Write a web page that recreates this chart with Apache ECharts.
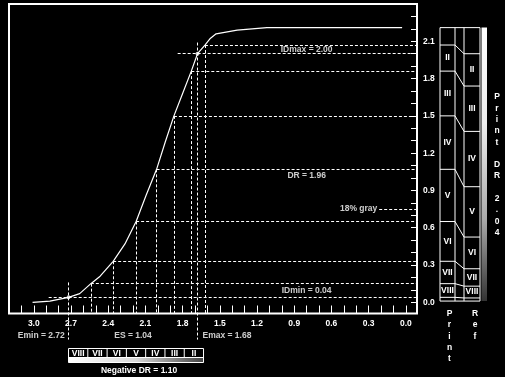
<!DOCTYPE html>
<html>
<head>
<meta charset="utf-8">
<script src="https://cdn.jsdelivr.net/npm/echarts@6/dist/echarts.min.js"></script>
<style>
  html, body { margin: 0; padding: 0; background: #000; }
  #main { width: 505px; height: 377px; }
</style>
</head>
<body>
<div id="main"></div>
<script>
// characteristic curve (log exposure -> density)
const curveX = [3.01, 2.87, 2.72, 2.63, 2.54, 2.465, 2.36, 2.265, 2.175, 2.095, 2.01, 1.94, 1.87, 1.80, 1.73, 1.68, 1.62, 1.58, 1.53, 1.36, 1.12, 0.03];
const curveY = [0.00, 0.01, 0.04, 0.07, 0.15, 0.21, 0.33, 0.47, 0.65, 0.86, 1.07, 1.29, 1.50, 1.68, 1.86, 2.00, 2.07, 2.12, 2.16, 2.19, 2.21, 2.21];

// points on the curve where the print zones change
const zoneX = [2.54, 2.36, 2.175, 2.01, 1.87, 1.73, 1.62];
const zoneY = [0.15, 0.33, 0.65, 1.07, 1.50, 1.86, 2.07];

const eMin = 2.72, eMax = 1.68, dMin = 0.04, dMax = 2.00;
const gray18 = 0.75;

// axis labels
const xLabels = [3.0, 2.7, 2.4, 2.1, 1.8, 1.5, 1.2, 0.9, 0.6, 0.3, 0.0];
const yLabels = [0.0, 0.3, 0.6, 0.9, 1.2, 1.5, 1.8, 2.1];

// zone panel on the right
const zoneNames = ['II', 'III', 'IV', 'V', 'VI', 'VII', 'VIII'];
const printBounds = [2.21, 2.07, 1.86, 1.50, 1.07, 0.65, 0.33, 0.15, 0.04, 0.01];
const refBounds = [2.21, 2.00, 1.74, 1.375, 0.93, 0.525, 0.27, 0.13, 0.035, 0.01];

// negative step wedge under the x axis
const wedgeLabels = ['VIII', 'VII', 'VI', 'V', 'IV', 'III', 'II'];

const X_MIN = -0.09, X_MAX = 3.2, Y_MIN = -0.09, Y_MAX = 2.4;
const FONT = 'bold 8.5px "Liberation Sans", Arial, sans-serif';
const textStyle = { color: '#fff', fontWeight: 'bold', fontSize: 8.5, fontFamily: '"Liberation Sans", Arial, sans-serif' };

let xMinor = [], yMinor = [];
for (let i = 0; i <= 32; i++) xMinor.push(+(i / 10).toFixed(1));
for (let i = 0; i <= 24; i++) yMinor.push(+(i / 10).toFixed(1));

// dashed guide lines
let guides = [];
zoneX.forEach(function (x, i) {
  guides.push({ coords: [[x, zoneY[i]], [X_MIN, zoneY[i]]] });
  guides.push({ coords: [[x, zoneY[i]], [x, Y_MIN]] });
});
guides.push({ coords: [[2.88, dMin], [X_MIN, dMin]] });
guides.push({ coords: [[eMin, 0.16], [eMin, -0.30]] });
guides.push({ coords: [[1.84, dMax], [X_MIN, dMax]] });
guides.push({ coords: [[eMax, 2.09], [eMax, -0.30]] });
guides.push({ coords: [[0.215, gray18], [X_MIN, gray18]] });

const notes = [
  { value: [0.80, 2.03], name: 'IDmax = 2.00' },
  { value: [0.80, 1.02], name: 'DR = 1.96' },
  { value: [0.23, gray18], name: '18% gray', label: { align: 'right' } },
  { value: [0.80, 0.09], name: 'IDmin = 0.04' },
  { value: [2.75, -0.265], name: 'Emin = 2.72', label: { align: 'right' } },
  { value: [(eMin + eMax) / 2, -0.265], name: 'ES = 1.04' },
  { value: [1.64, -0.265], name: 'Emax = 1.68', label: { align: 'left' } }
];

function txt(x, y, s, align, lh) {
  return {
    type: 'text', x: x, y: y,
    style: { text: s, fill: '#fff', font: FONT, align: align || 'center', verticalAlign: 'middle', lineHeight: lh || 11 }
  };
}
function seg(x1, y1, x2, y2) {
  return { type: 'line', shape: { x1: x1, y1: y1, x2: x2, y2: y2 }, style: { stroke: '#fff', lineWidth: 1 } };
}

function renderWedge(params, api) {
  const left = api.coord([eMin, Y_MIN])[0];
  const bottom = api.coord([eMin, Y_MIN])[1];
  const w = 135, top = bottom + 35, mid = top + 9, low = top + 14;
  const cw = w / wedgeLabels.length;
  let kids = [
    { type: 'rect', shape: { x: left, y: mid, width: w, height: low - mid },
      style: { fill: new echarts.graphic.LinearGradient(0, 0, 1, 0, [{ offset: 0, color: '#fff' }, { offset: 0.5, color: '#d8d8d8' }, { offset: 1, color: '#444' }]) } },
    { type: 'rect', shape: { x: left, y: top, width: w, height: low - top }, style: { fill: 'none', stroke: '#fff', lineWidth: 1 } },
    seg(left, mid, left + w, mid)
  ];
  wedgeLabels.forEach(function (s, i) {
    if (i > 0) kids.push(seg(left + i * cw, top, left + i * cw, mid));
    kids.push(txt(left + (i + 0.5) * cw, top + 4.8, s));
  });
  kids.push(txt(left + w / 2 + 3, low + 8, 'Negative DR = 1.10'));
  return { type: 'group', children: kids };
}

function renderPanel(params, api) {
  const c = function (x, y) { return api.coord([x, y]); };
  const yT = c(0, printBounds[0])[1], yB = c(0, printBounds[printBounds.length - 1])[1];
  let kids = [
    { type: 'rect', shape: { x: c(41.5, 0)[0], y: yT, width: 5.5, height: yB - yT },
      style: { fill: new echarts.graphic.LinearGradient(0, 0, 0, 1, [{ offset: 0, color: '#fff' }, { offset: 0.35, color: '#eee' }, { offset: 0.7, color: '#aaa' }, { offset: 1, color: '#333' }]) } }
  ];
  [0, 15, 24, 40].forEach(function (x) {
    kids.push(seg(c(x, 0)[0], yT, c(x, 0)[0], yB));
  });
  printBounds.forEach(function (p, i) {
    const r = refBounds[i];
    kids.push({ type: 'polyline', shape: { points: [c(0, p), c(15, p), c(24, r), c(40, r)] }, style: { stroke: '#fff', lineWidth: 1, fill: 'none' } });
  });
  zoneNames.forEach(function (s, i) {
    kids.push(txt(c(7.5, 0)[0], c(0, (printBounds[i + 1] + printBounds[i + 2]) / 2)[1], s));
    kids.push(txt(c(32, 0)[0], c(0, (refBounds[i + 1] + refBounds[i + 2]) / 2)[1], s));
  });
  kids.push({ type: 'text', x: c(9.5, 0)[0], y: yB + 7, style: { text: 'P\nr\ni\nn\nt', fill: '#fff', font: FONT, align: 'center', verticalAlign: 'top', lineHeight: 11.3 } });
  kids.push({ type: 'text', x: c(35, 0)[0], y: yB + 7, style: { text: 'R\ne\nf', fill: '#fff', font: FONT, align: 'center', verticalAlign: 'top', lineHeight: 11.3 } });
  kids.push({ type: 'text', x: c(57, 0)[0], y: c(0, 1.652)[1] - 5.6, style: { text: 'P\nr\ni\nn\nt\n \nD\nR\n \n2\n.\n0\n4', fill: '#fff', font: FONT, align: 'center', verticalAlign: 'top', lineHeight: 11.3 } });
  return { type: 'group', children: kids };
}

const chart = echarts.init(document.getElementById('main'), null, { renderer: 'canvas' });

const option = {
  backgroundColor: '#000',
  animation: false,
  grid: [
    { left: 9, top: 4, width: 408, height: 309.5, show: true, borderColor: '#fff', borderWidth: 2, backgroundColor: 'transparent' },
    { left: 440, top: 4, width: 48, height: 309.5, show: false }
  ],
  xAxis: [
    {
      type: 'value', gridIndex: 0, inverse: true, min: X_MIN, max: X_MAX,
      axisLine: { show: false, onZero: false }, splitLine: { show: false },
      axisTick: { show: true, inside: true, length: 8, customValues: xMinor, lineStyle: { color: '#fff', width: 1 } },
      axisLabel: Object.assign({ customValues: xLabels, margin: 6, formatter: function (v) { return v.toFixed(1); } }, textStyle)
    },
    { type: 'value', gridIndex: 1, min: 0, max: 48, show: false }
  ],
  yAxis: [
    {
      type: 'value', gridIndex: 0, position: 'right', min: Y_MIN, max: Y_MAX,
      axisLine: { show: false, onZero: false }, splitLine: { show: false },
      axisTick: { show: true, inside: true, length: 6, customValues: yMinor, lineStyle: { color: '#fff', width: 1 } },
      axisLabel: Object.assign({ customValues: yLabels, margin: 6, formatter: function (v) { return v.toFixed(1); } }, textStyle)
    },
    { type: 'value', gridIndex: 1, min: Y_MIN, max: Y_MAX, show: false }
  ],
  series: [
    {
      type: 'lines', coordinateSystem: 'cartesian2d', xAxisIndex: 0, yAxisIndex: 0,
      clip: false, silent: true, data: guides,
      lineStyle: { color: '#fff', width: 1, type: [3, 2], opacity: 1 }
    },
    {
      type: 'line', xAxisIndex: 0, yAxisIndex: 0, symbol: 'none',
      data: curveX.map(function (x, i) { return [x, curveY[i]]; }),
      lineStyle: { color: '#fff', width: 1.2 }
    },
    {
      type: 'scatter', xAxisIndex: 0, yAxisIndex: 0, symbolSize: 4,
      itemStyle: { color: '#fff' }, data: [[eMin, dMin], [eMax, dMax]]
    },
    {
      type: 'scatter', xAxisIndex: 0, yAxisIndex: 0, symbolSize: 0, clip: false, silent: true,
      data: notes,
      label: Object.assign({ show: true, position: 'inside', formatter: '{b}' }, textStyle)
    },
    {
      type: 'custom', xAxisIndex: 0, yAxisIndex: 0, clip: false, silent: true,
      data: [[eMin, 0]], renderItem: renderWedge
    },
    {
      type: 'custom', xAxisIndex: 1, yAxisIndex: 1, clip: false, silent: true,
      data: [[0, 0]], renderItem: renderPanel
    }
  ]
};

chart.setOption(option);
</script>
</body>
</html>
